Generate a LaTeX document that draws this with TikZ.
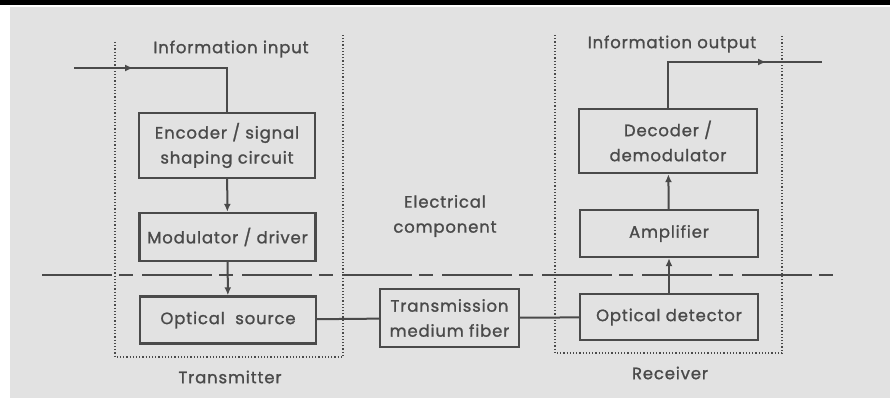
\documentclass[tikz,border=0pt]{standalone}
\usepackage{fontspec}
\setmainfont{Poppins}[LetterSpace=5,FakeBold=1.2]
\usetikzlibrary{arrows.meta,decorations.markings}
\definecolor{paper}{HTML}{E2E2E2}
\definecolor{ink}{HTML}{4A4A4A}

\begin{document}
\begin{tikzpicture}[x=1pt,y=-1pt,
  every node/.style={inner sep=0pt,text=ink,font=\fontsize{16.5}{25}\selectfont},
  block/.style={draw=ink,line width=2.4pt,minimum width=176pt},
  link/.style={draw=ink,line width=2pt},
  flow/.style={link,-{Latex[length=8pt,width=7pt]}},
  frame/.style={draw=ink,line width=1.2pt,dotted},
  split/.style={draw=ink,line width=2.6pt,dash pattern=on 70pt off 7pt on 14pt off 9pt}]
\useasboundingbox (0,0) rectangle (890,398);
% paper
\fill [paper] (10,7) rectangle (890,398);
\fill [black] (0,0) rectangle (890,5);
% transmitter side
\draw [frame] (115,42) -- (115,357) -- (343,357) -- (343,35);
\node (txin) at (231,49) {Information input};
\node [block,minimum height=65pt,align=center] (enc) at (227,145.5) {Encoder / signal\\shaping circuit};
\node [block,minimum height=48pt] (mod) at (227.5,237) {Modulator / driver};
\node [block,minimum height=47pt] (src) at (228,320) {Optical\ \ source};
\node (tx) at (230,377) {Transmitter};
% channel
\node [block,minimum width=139pt,minimum height=58pt,align=center] (fib) at (449.5,318) {Transmission\\medium fiber};
\node [align=center] (elec) at (445,216) {Electrical\\component};
% receiver side
\draw [frame] (555,35) -- (555,353) -- (782,353) -- (782,35);
\node [block,minimum width=178pt,minimum height=46pt] (det) at (669,317) {Optical detector};
\node [block,minimum width=178pt,minimum height=47pt] (amp) at (669,233.5) {Amplifier};
\node [block,minimum width=178pt,minimum height=64pt,align=center] (dec) at (668,141) {Decoder /\\demodulator};
\node (rxout) at (672,44) {Information output};
\node (rx) at (670,373) {Receiver};
% electrical / optical boundary
\coordinate (bl) at (42,275);
\coordinate (br) at (833,275);
\draw [split] (bl) -- (br);
% signal path
\coordinate (in) at (74,68);
\coordinate (out) at (822,62);
\draw [link,postaction={decorate},decoration={markings,mark=at position 0.30 with {\arrow{Latex[length=8pt,width=7pt]}}}] (in) -| (enc.north);
\draw [flow] (enc) -- (mod);
\draw [flow] (mod) -- (src);
\draw [link] (src) -- (fib);
\draw [link] (fib) -- (det);
\draw [flow] (det) -- (amp);
\draw [flow] (amp) -- (dec);
\draw [link,postaction={decorate},decoration={markings,mark=at position 0.72 with {\arrow{Latex[length=8pt,width=7pt]}}}] (dec.north) |- (out);
\end{tikzpicture}
\end{document}
